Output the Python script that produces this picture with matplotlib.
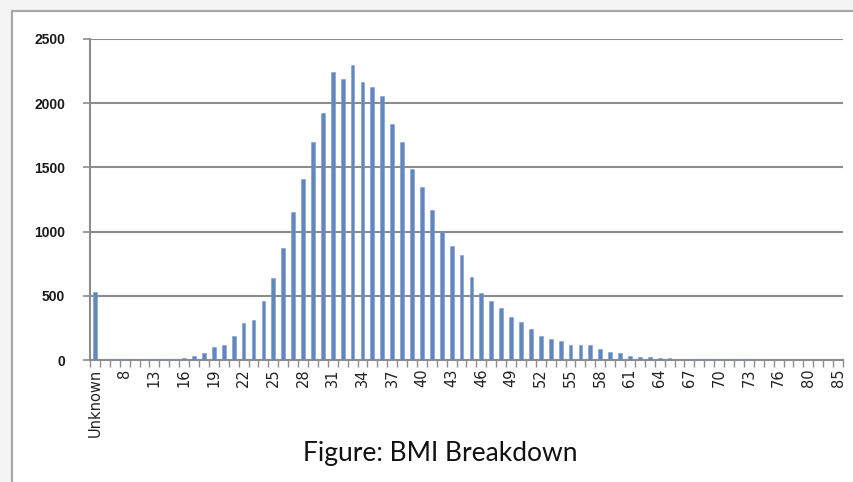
import matplotlib
matplotlib.use("Agg")
import matplotlib.pyplot as plt
from matplotlib.patches import Rectangle
from matplotlib.ticker import FixedLocator, NullFormatter

categories = ['Unknown', '5', '7', '8', '10', '12',
              '13', '14', '15', '16', '17', '18', '19', '20', '21', '22',
              '23', '24', '25', '26', '27', '28', '29', '30', '31', '32',
              '33', '34', '35', '36', '37', '38', '39', '40', '41', '42',
              '43', '44', '45', '46', '47', '48', '49', '50', '51', '52',
              '53', '54', '55', '56', '57', '58', '59', '60', '61', '62',
              '63', '64', '65', '66', '67', '68', '69', '70', '71', '72',
              '73', '74', '75', '76', '77', '78', '80', '81', '83', '85']

counts = [530, 8, 6, 5, 5, 6,
          6, 8, 10, 12, 28, 58, 100, 120, 185, 285,
          315, 460, 635, 870, 1150, 1410, 1700, 1925, 2240, 2185,
          2295, 2165, 2130, 2055, 1835, 1700, 1488, 1350, 1165, 1000,
          888, 815, 650, 525, 460, 405, 338, 295, 238, 185,
          165, 145, 115, 118, 118, 82, 62, 55, 35, 25,
          20, 16, 13, 11, 9, 8, 7, 6, 5, 5,
          4, 4, 3, 3, 3, 2, 2, 2, 2, 2]

y_ticks = [0, 500, 1000, 1500, 2000, 2500]
caption = "Figure: BMI Breakdown"

W, H = 854, 482
fig = plt.figure(figsize=(W / 100, H / 100), dpi=100)
fig.patch.set_facecolor('#f4f4f4')
# white framed panel
fig.patches.append(Rectangle((12 / W, -0.05), 1.1, 1 - 11 / H + 0.05,
                             transform=fig.transFigure, facecolor='white',
                             edgecolor='#a8a8a8', linewidth=1.6, zorder=-5))

ax = fig.add_axes([90 / W, 1 - 360 / H, (843 - 90) / W, (360 - 39) / H])
ax.set_zorder(2)
ax.patch.set_alpha(0)

x = list(range(len(categories)))
ax.bar(x, counts, width=0.38, color='#6186c0', edgecolor='#7d9bcb',
       linewidth=0.4, zorder=3)

ax.set_xlim(-0.5, len(categories) - 0.5)
ax.set_ylim(0, 2500)

# gridlines
ax.set_yticks(y_ticks)
ax.yaxis.grid(True, color='#8c8c8c', linewidth=1.5, zorder=1)
ax.set_axisbelow(True)

# y labels
ax.set_yticklabels([str(v) for v in y_ticks],
                   family=['Liberation Sans', 'DejaVu Sans'],
                   fontsize=10, fontweight='bold', color='#1a1a1a')
ax.tick_params(axis='y', direction='out', length=5, width=1.2,
               color='#8c8c8c', pad=13)

# x ticks: marks at category boundaries, labels every 3rd category
ax.xaxis.set_major_locator(FixedLocator([i - 0.5 for i in range(len(categories) + 1)]))
ax.xaxis.set_major_formatter(NullFormatter())
ax.tick_params(axis='x', which='major', direction='out', length=5, width=1.0,
               color='#8c8c8c')
lab_pos = x[::3]
ax.set_xticks(lab_pos, minor=True)
ax.set_xticklabels([categories[i] for i in lab_pos], minor=True,
                   rotation=90, fontsize=10.5, color='#222222',
                   family='DejaVu Sans')
ax.tick_params(axis='x', which='minor', length=0, pad=6)

for side in ['top', 'right']:
    ax.spines[side].set_visible(False)
ax.spines['left'].set_color('#8c8c8c')
ax.spines['left'].set_linewidth(1.5)
ax.spines['bottom'].set_color('#8c8c8c')
ax.spines['bottom'].set_linewidth(1.5)

fig.text(440 / W, 1 - 461 / H, caption, ha='center', va='baseline',
         fontsize=19, family=['Lato', 'DejaVu Sans'], color='#111111')

fig.savefig('out.png', dpi=100, facecolor=fig.get_facecolor())
